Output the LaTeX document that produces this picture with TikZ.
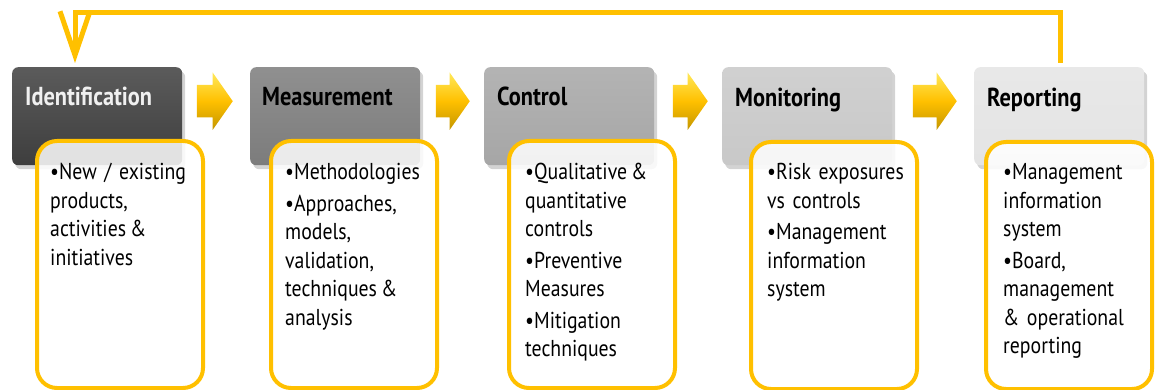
\documentclass[tikz,border=0pt]{standalone}
\usepackage{fontspec}
\setmainfont{PT Sans}[FakeStretch=0.86]
\usetikzlibrary{calc,shapes.arrows,shadows,arrows.meta}

\definecolor{gold}{RGB}{255,192,0}
\definecolor{goldlight}{RGB}{255,232,90}
\definecolor{golddark}{RGB}{196,150,0}
\definecolor{idfill}{RGB}{62,62,62}
\definecolor{measfill}{RGB}{124,124,124}
\definecolor{ctrlfill}{RGB}{166,166,166}
\definecolor{monfill}{RGB}{200,200,200}
\definecolor{repfill}{RGB}{228,228,228}

% one bullet, continuation lines hang under the text
\newcommand{\bul}[1]{\par\hangindent=8pt\hangafter=1\noindent\textbullet#1\par\vskip3pt}
\newcommand{\amp}{\hspace{4pt}\&}

\begin{document}
\begin{tikzpicture}[x=1pt,y=-1pt,
	head/.style={draw=none, rounded corners=6pt, minimum width=170pt, minimum height=98pt, anchor=north west,
		top color=#1!85!white, bottom color=#1,
		drop shadow={opacity=0.35,shadow xshift=3pt,shadow yshift=-4pt}},
	title/.style={anchor=base west, inner sep=0pt, font=\fontsize{26}{30}\selectfont\bfseries},
	box/.style={draw=gold, line width=4pt, rounded corners=20pt, fill=white, fill opacity=0.85,
		minimum width=166pt, minimum height=247pt, anchor=north west},
	txt/.style={anchor=north west, inner sep=0pt, text width=150pt, align=left,
		font=\fontsize{23}{28.5}\selectfont},
	chev/.style={single arrow, draw=none, inner sep=0pt, minimum height=#1, anchor=tip,
		single arrow head extend=12.5pt, single arrow tip angle=110,
		top color=goldlight, bottom color=golddark, middle color=gold},
	fback/.style={draw=gold, line width=5pt, line join=miter,
		-{Straight Barb[length=44pt,width=30pt,line width=5pt]}}]
	\useasboundingbox (0,0) rectangle (1155,390);

	% headers
	\node[head=idfill] (ident) at (12,67) {};
	\node[head=measfill] (meas) at (250,67) {};
	\node[head=ctrlfill] (ctrl) at (484,67) {};
	\node[head=monfill] (mon) at (722,67) {};
	\node[head=repfill] (rep) at (974,67) {};
	\node[title, text=white!94!black] (identt) at ([shift={(13,39)}]ident.north west) {Identification};
	\node[title] (meast) at ([shift={(12,39)}]meas.north west) {Measurement};
	\node[title] (ctrlt) at ([shift={(13,39)}]ctrl.north west) {Control};
	\node[title] (mont) at ([shift={(13,40)}]mon.north west) {Monitoring};
	\node[title] (rept) at ([shift={(13,40)}]rep.north west) {Reporting};

	% detail boxes
	\node[box] (identb) at (35,139) {};
	\node[box] (measb) at (269,139) {};
	\node[box] (ctrlb) at (507,139) {};
	\node[box] (monb) at (749,140) {};
	\node[box] (repb) at (984,140) {};
	\node[txt] (identx) at ([shift={(15,12)}]identb.north west) {\bul{New / existing\\products,\\activities\amp\\initiatives}};
	\node[txt] (measx) at ([shift={(16,12)}]measb.north west) {\bul{Methodologies}\bul{Approaches,\\models,\\validation,\\techniques\amp\\analysis}};
	\node[txt] (ctrlx) at ([shift={(18,12)}]ctrlb.north west) {\bul{Qualitative\amp\\quantitative\\controls}\bul{Preventive\\Measures}\bul{Mitigation\\techniques}};
	\node[txt] (monx) at ([shift={(18,11)}]monb.north west) {\bul{Risk exposures\\vs controls}\bul{Management\\information\\system}};
	\node[txt] (repx) at ([shift={(19,11)}]repb.north west) {\bul{Management\\information\\system}\bul{Board,\\management\\\& operational\\reporting}};

	% chevrons between steps
	\node[chev=36pt] (c1) at ([shift={(-17,-15)}]meas.west) {\rule{0pt}{32pt}};
	\node[chev=34pt] (c2) at ([shift={(-14,-15)}]ctrl.west) {\rule{0pt}{32pt}};
	\node[chev=35pt] (c3) at ([shift={(-14,-15)}]mon.west) {\rule{0pt}{32pt}};
	\node[chev=44pt] (c4) at ([shift={(-17,-15)}]rep.west) {\rule{0pt}{32pt}};

	% feedback loop
	\draw[fback] ([shift={(86,-4)}]rep.north west) -- ++(0,-50) -| ([shift={(63,-4)}]ident.north west);
\end{tikzpicture}
\end{document}
